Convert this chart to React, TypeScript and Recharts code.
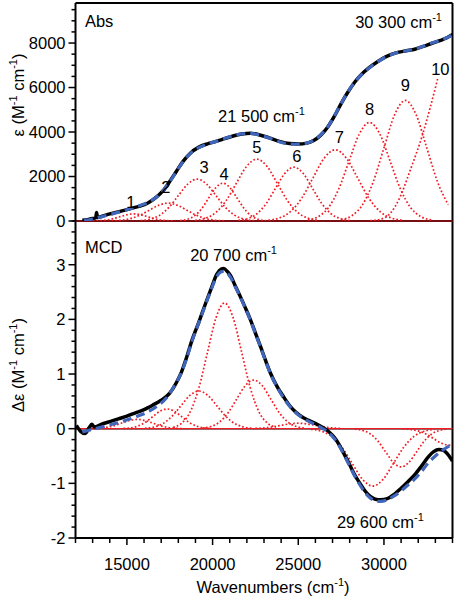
import React from 'react';
import { ComposedChart, Line, XAxis, YAxis, ReferenceLine, ReferenceDot } from 'recharts';

const FONT = '"Liberation Sans", Arial, Helvetica, sans-serif';
const RED = '#f01c24';
const BLUE = '#3f66bb';

// ---------- axes ----------
const xTicks = [12000, 13000, 14000, 15000, 16000, 17000, 18000, 19000, 20000, 21000, 22000, 23000, 24000, 25000, 26000, 27000, 28000, 29000, 30000, 31000, 32000, 33000, 34000];
const xLabelTicks = [15000, 20000, 25000, 30000];
const absTicks = [0, 500, 1000, 1500, 2000, 2500, 3000, 3500, 4000, 4500, 5000, 5500, 6000, 6500, 7000, 7500, 8000, 8500, 9000, 9500];
const absLabelTicks = [0, 2000, 4000, 6000, 8000];
const mcdTicks = [-2, -1.8, -1.6, -1.4, -1.2, -1, -0.8, -0.6, -0.4, -0.2, 0, 0.2, 0.4, 0.6, 0.8, 1, 1.2, 1.4, 1.6, 1.8, 2, 2.2, 2.4, 2.6, 2.8, 3, 3.2, 3.4, 3.6, 3.8];
const mcdLabelTicks = [-2, -1, 0, 1, 2, 3];

// ---------- absorption ----------
const absExp = [[12400,30],[12700,60],[13000,110],[13180,150],[13230,380],[13280,160],[13600,230],[14000,320],[14500,410],[14900,490],[15300,580],[15700,660],[16200,800],[16700,1060],[17100,1350],[17500,1780],[17900,2250],[18300,2700],[18700,3050],[19200,3320],[19700,3470],[20200,3580],[20700,3700],[21200,3820],[21700,3910],[22200,3950],[22700,3880],[23300,3740],[23900,3580],[24500,3480],[25000,3460],[25500,3500],[25900,3620],[26300,3850],[26700,4200],[27100,4700],[27500,5280],[27900,5800],[28300,6250],[28700,6600],[29100,6870],[29600,7150],[30100,7380],[30700,7560],[31300,7650],[31800,7720],[32300,7850],[32800,7990],[33300,8120],[33700,8250],[34000,8380]];
const absFit = [[12500,20],[13000,90],[13600,210],[14200,330],[14800,460],[15400,600],[16000,760],[16500,950],[17000,1270],[17500,1760],[17900,2240],[18300,2690],[18700,3030],[19200,3300],[19700,3460],[20200,3580],[20700,3710],[21200,3830],[21700,3920],[22200,3940],[22700,3870],[23300,3730],[23900,3560],[24500,3460],[25000,3450],[25500,3500],[25900,3630],[26300,3860],[26700,4210],[27100,4710],[27500,5280],[27900,5810],[28300,6250],[28700,6590],[29100,6860],[29600,7140],[30100,7370],[30700,7550],[31300,7650],[31800,7730],[32300,7860],[32800,8000],[33300,8130],[33700,8250],[34000,8370]];
const absBand1 = [[13000,4],[13400,14],[13800,43],[14200,104],[14600,194],[15000,282],[15400,320],[15800,282],[16200,194],[16600,104],[17000,43],[17400,14],[17800,4]];
const absBand2 = [[14100,9],[14650,35],[15200,108],[15750,260],[16300,485],[16850,706],[17400,800],[17950,706],[18500,485],[19050,260],[19600,108],[20150,35],[20700,9]];
const absBand3 = [[15800,21],[16350,83],[16900,254],[17450,610],[18000,1140],[18550,1659],[19100,1880],[19650,1659],[20200,1140],[20750,610],[21300,254],[21850,83],[22400,21]];
const absBand4 = [[18100,19],[18520,75],[18940,230],[19360,552],[19770,1031],[20190,1500],[20600,1700],[21010,1500],[21430,1031],[21850,552],[22260,230],[22680,75],[23100,19]];
const absBand5 = [[18980,31],[19580,122],[20180,376],[20780,903],[21380,1686],[21980,2453],[22580,2780],[23180,2453],[23780,1686],[24380,903],[24980,376],[25580,122],[26180,31]];
const absBand6 = [[21510,27],[22050,106],[22590,327],[23130,786],[23670,1468],[24210,2136],[24750,2420],[25290,2136],[25830,1468],[26370,786],[26910,327],[27450,106],[27990,27]];
const absBand7 = [[23260,36],[23910,140],[24560,433],[25210,1039],[25860,1941],[26510,2824],[27160,3200],[27810,2824],[28460,1941],[29110,1039],[29760,433],[30410,140],[31060,36]];
const absBand8 = [[25560,49],[26160,194],[26760,599],[27360,1438],[27960,2687],[28560,3909],[29160,4430],[29760,3909],[30360,2687],[30960,1438],[31560,599],[32160,194],[32760,49]];
const absBand9 = [[27500,60],[28125,238],[28750,733],[29375,1760],[30000,3287],[30625,4783],[31250,5420],[31875,4783],[32500,3287],[33125,1760],[33750,733]];
const absBand10 = [[29200,15],[29800,80],[30370,345],[30950,1095],[31540,2300],[32220,3800],[32700,5100],[33130,6380]];
const absBands = [absBand1, absBand2, absBand3, absBand4, absBand5, absBand6, absBand7, absBand8, absBand9, absBand10];

// ---------- MCD ----------
const mcdExp = [[12050,0.06],[12300,-0.05],[12550,-0.09],[12800,0.02],[12950,0.08],[13100,0.03],[13500,0.08],[14000,0.13],[14500,0.18],[15000,0.23],[15500,0.29],[16000,0.35],[16500,0.43],[17000,0.52],[17500,0.65],[17900,0.85],[18200,1.05],[18500,1.32],[18800,1.62],[19200,1.95],[19600,2.3],[19900,2.55],[20250,2.83],[20500,2.92],[20650,2.93],[20850,2.88],[21050,2.8],[21300,2.63],[21600,2.43],[21900,2.22],[22200,2.0],[22500,1.75],[22800,1.5],[23100,1.24],[23400,1.0],[23800,0.75],[24150,0.58],[24500,0.42],[24900,0.29],[25300,0.2],[25700,0.14],[26100,0.08],[26500,0.01],[26800,-0.06],[27100,-0.16],[27400,-0.3],[27700,-0.48],[28000,-0.66],[28300,-0.85],[28600,-1.0],[28900,-1.14],[29200,-1.24],[29500,-1.29],[29800,-1.3],[30200,-1.28],[30600,-1.2],[31000,-1.09],[31400,-0.97],[31800,-0.84],[32200,-0.68],[32600,-0.51],[32900,-0.42],[33200,-0.38],[33500,-0.4],[33800,-0.5],[34000,-0.59]];
const mcdFit = [[12400,-0.06],[12900,-0.02],[13400,0.02],[14000,0.07],[14600,0.12],[15200,0.18],[15800,0.25],[16300,0.32],[16800,0.42],[17300,0.56],[17800,0.8],[18200,1.04],[18500,1.3],[18800,1.6],[19200,1.94],[19600,2.28],[19900,2.53],[20250,2.79],[20500,2.87],[20650,2.88],[20850,2.85],[21050,2.77],[21300,2.61],[21600,2.42],[21900,2.21],[22200,1.99],[22500,1.74],[22800,1.49],[23100,1.23],[23400,0.99],[23800,0.74],[24150,0.56],[24500,0.41],[24900,0.28],[25300,0.19],[25700,0.12],[26100,0.06],[26500,-0.01],[26800,-0.08],[27100,-0.18],[27400,-0.32],[27700,-0.5],[28000,-0.68],[28300,-0.87],[28600,-1.03],[28900,-1.17],[29200,-1.27],[29500,-1.32],[29800,-1.33],[30200,-1.3],[30600,-1.23],[31000,-1.14],[31400,-1.03],[31800,-0.92],[32200,-0.78],[32600,-0.62],[33000,-0.5],[33400,-0.4],[33800,-0.32],[34000,-0.29]];
const mcdBandE = [[12900,0.002],[13350,0.007],[13800,0.023],[14250,0.055],[14700,0.103],[15150,0.15],[15600,0.17],[16050,0.15],[16500,0.103],[16950,0.055],[17400,0.023],[17850,0.007],[18300,0.002]];
const mcdBandD = [[14800,0.004],[15225,0.016],[15650,0.049],[16075,0.117],[16500,0.218],[16925,0.318],[17350,0.36],[17775,0.318],[18200,0.218],[18625,0.117],[19050,0.049],[19475,0.016],[19900,0.004]];
const mcdBandB = [[16050,0.008],[16575,0.03],[17100,0.093],[17625,0.224],[18150,0.418],[18675,0.609],[19200,0.69],[19725,0.609],[20250,0.418],[20775,0.224],[21300,0.093],[21825,0.03],[22350,0.008]];
const mcdBandA = [[17700,0.026],[18200,0.101],[18700,0.311],[19200,0.747],[19700,1.395],[20200,2.03],[20700,2.3],[21200,2.03],[21700,1.395],[22200,0.747],[22700,0.311],[23200,0.101],[23700,0.026]];
const mcdBandC = [[19400,0.01],[19900,0.039],[20400,0.12],[20900,0.289],[21400,0.54],[21900,0.785],[22400,0.89],[22900,0.785],[23400,0.54],[23900,0.289],[24400,0.12],[24900,0.039],[25400,0.01]];
const mcdBandG = [[22500,0.004],[23000,0.014],[23500,0.032],[24000,0.061],[24500,0.088],[25000,0.1],[25500,0.088],[26000,0.061],[26500,0.032],[27000,0.014],[27500,0.004]];
const mcdBandN1 = [[25750,-0.012],[26350,-0.046],[26950,-0.142],[27550,-0.341],[28150,-0.637],[28750,-0.927],[29350,-1.05],[29950,-0.927],[30550,-0.637],[31150,-0.341],[31750,-0.142],[32350,-0.046],[32950,-0.012]];
const mcdBandN2 = [[28300,-0.008],[28750,-0.031],[29200,-0.095],[29650,-0.227],[30100,-0.425],[30550,-0.618],[31000,-0.7],[31450,-0.618],[31900,-0.425],[32350,-0.227],[32800,-0.095],[33250,-0.031],[33700,-0.008]];
const mcdBandN3 = [[31100,-0.003],[31550,-0.013],[32000,-0.041],[32450,-0.097],[32900,-0.182],[33350,-0.265],[33800,-0.3],[34000,-0.29]];
const mcdBands = [mcdBandE, mcdBandD, mcdBandB, mcdBandA, mcdBandC, mcdBandG, mcdBandN1, mcdBandN2, mcdBandN3];

// ---------- annotations (data coordinates) ----------
const absNotes = [
  { x: 12550, y: 8700, text: 'Abs', sup: '', anchor: 'start' },
  { x: 28320, y: 8680, text: '30 300 cm', sup: '-1', anchor: 'start' },
  { x: 20320, y: 4470, text: '21 500 cm', sup: '-1', anchor: 'start' },
];
const bandNames = ['1', '2', '3', '4', '5', '6', '7', '8', '9', '10'];
const bandNameX = [15230, 17275, 19505, 20675, 22584, 24920, 27400, 29155, 31246, 33290];
const bandNameY = [585, 1250, 2150, 1850, 3050, 2670, 3500, 4775, 5825, 6577];
const mcdNotes = [
  { x: 12550, y: 3.22, text: 'MCD', sup: '', anchor: 'start' },
  { x: 18690, y: 3.07, text: '20 700 cm', sup: '-1', anchor: 'start' },
  { x: 27256, y: -1.81, text: '29 600 cm', sup: '-1', anchor: 'start' },
];

const pts = (a: number[][]) => a.map(([x, y]) => ({ x, y }));

const FS = 16.5;

const YTick = (props: any) => {
  const { x, y, payload, labels } = props;
  const v = payload.value;
  const major = labels.some((l: number) => Math.abs(l - v) < 1e-9);
  return (
    <g>
      <line x1={x} x2={x - (major ? 7 : 4)} y1={y} y2={y} stroke="#000" strokeWidth={1.5} />
      {major && (
        <text x={x - 10} y={y} dy="0.36em" textAnchor="end" fontFamily={FONT} fontSize={FS} fill="#000">
          {String(v)}
        </text>
      )}
    </g>
  );
};

const XTick = (props: any) => {
  const { x, y, payload } = props;
  const v = payload.value;
  const major = xLabelTicks.includes(v);
  return (
    <g>
      <line x1={x} x2={x} y1={y} y2={y + (major ? 7 : 5)} stroke="#000" strokeWidth={1.5} />
      {major && (
        <text x={x} y={y + 32} textAnchor="middle" fontFamily={FONT} fontSize={FS} fill="#000">
          {String(v)}
        </text>
      )}
    </g>
  );
};

const Note = (props: any) => {
  const { viewBox, text, sup, anchor } = props;
  const cx = viewBox.x + (viewBox.width || 0) / 2;
  const cy = viewBox.y + (viewBox.height || 0) / 2;
  return (
    <text x={cx} y={cy} textAnchor={anchor} fontFamily={FONT} fontSize={FS} fill="#000">
      {text}
      {sup ? <tspan dy={-7} fontSize={11}>{sup}</tspan> : null}
    </text>
  );
};

const bandLine = (d: number[][], i: number) => (
  <Line key={'b' + i} data={pts(d)} dataKey="y" type="monotone" dot={false} activeDot={false}
    isAnimationActive={false} stroke={RED} strokeWidth={1.7} strokeDasharray="1.7 2.1" />
);

export default function App() {
  return (
    <div style={{ position: 'absolute', left: 0, top: 0, width: 463, height: 601, background: '#fff' }}>
      {/* bottom MCD panel */}
      <div style={{ position: 'absolute', left: 0, top: 0 }}>
        <ComposedChart width={463} height={601} margin={{ top: 221, right: 10.5, bottom: 0, left: 0 }}>
          <XAxis dataKey="x" type="number" domain={[12000, 34000]} ticks={xTicks} interval={0} height={63}
            tickSize={0} tickMargin={0} tickLine={false} allowDataOverflow
            axisLine={{ stroke: '#000', strokeWidth: 2 }} tick={(p: any) => <XTick {...p} />} />
          <YAxis type="number" domain={[-2, 3.8]} ticks={mcdTicks} interval={0} width={75.5}
            tickSize={0} tickMargin={0} tickLine={false} allowDataOverflow
            axisLine={{ stroke: '#000', strokeWidth: 2 }} tick={(p: any) => <YTick {...p} labels={mcdLabelTicks} />} />
          <ReferenceLine x={34000} stroke="#000" strokeWidth={2} />
          <ReferenceLine y={0} stroke="#000" strokeWidth={1.5} />
          <ReferenceLine y={0} stroke={RED} strokeWidth={1.2} />
          {mcdBands.map(bandLine)}
          <Line data={pts(mcdExp)} dataKey="y" type="monotone" dot={false} activeDot={false}
            isAnimationActive={false} stroke="#000" strokeWidth={3.5} />
          <Line data={pts(mcdFit)} dataKey="y" type="monotone" dot={false} activeDot={false}
            isAnimationActive={false} stroke={BLUE} strokeWidth={3.2} strokeDasharray="9 5" />
          {mcdNotes.map((n, i) => (
            <ReferenceDot key={'mn' + i} x={n.x} y={n.y} r={0.5} fill="none" stroke="none"
              label={<Note text={n.text} sup={n.sup} anchor={n.anchor} />} />
          ))}
        </ComposedChart>
      </div>
      {/* top Abs panel */}
      <div style={{ position: 'absolute', left: 0, top: 0 }}>
        <ComposedChart width={463} height={240} margin={{ top: 3, right: 10.5, bottom: 19, left: 0 }}>
          <XAxis dataKey="x" type="number" domain={[12000, 34000]} hide allowDataOverflow />
          <YAxis type="number" domain={[0, 9800]} ticks={absTicks} interval={0} width={75.5}
            tickSize={0} tickMargin={0} tickLine={false} allowDataOverflow
            axisLine={{ stroke: '#000', strokeWidth: 2 }} tick={(p: any) => <YTick {...p} labels={absLabelTicks} />} />
          <ReferenceLine x={34000} stroke="#000" strokeWidth={2} />
          <ReferenceLine y={9800} stroke="#000" strokeWidth={2} />
          <ReferenceLine y={0} stroke="#000" strokeWidth={2} />
          <ReferenceLine y={0} stroke={RED} strokeWidth={1.2} />
          {absBands.map(bandLine)}
          <Line data={pts(absExp)} dataKey="y" type="monotone" dot={false} activeDot={false}
            isAnimationActive={false} stroke="#000" strokeWidth={3.5} />
          <Line data={pts(absFit)} dataKey="y" type="monotone" dot={false} activeDot={false}
            isAnimationActive={false} stroke={BLUE} strokeWidth={3.2} strokeDasharray="9 5" />
          {absNotes.map((n, i) => (
            <ReferenceDot key={'an' + i} x={n.x} y={n.y} r={0.5} fill="none" stroke="none"
              label={<Note text={n.text} sup={n.sup} anchor={n.anchor} />} />
          ))}
          {bandNames.map((t, i) => (
            <ReferenceDot key={'bn' + i} x={bandNameX[i]} y={bandNameY[i]} r={0.5} fill="none" stroke="none"
              label={<Note text={t} sup="" anchor="middle" />} />
          ))}
        </ComposedChart>
      </div>
      {/* axis titles */}
      <svg width={463} height={601} style={{ position: 'absolute', left: 0, top: 0, pointerEvents: 'none' }}>
        <text transform="translate(24,95) rotate(-90)" textAnchor="middle" fontFamily={FONT} fontSize={FS} fill="#000">
          ε (M<tspan dy={-7} fontSize={11}>-1</tspan><tspan dy={7}> cm</tspan><tspan dy={-7} fontSize={11}>-1</tspan><tspan dy={7}>)</tspan>
        </text>
        <text transform="translate(24,365) rotate(-90)" textAnchor="middle" fontFamily={FONT} fontSize={FS} fill="#000">
          Δε (M<tspan dy={-7} fontSize={11}>-1</tspan><tspan dy={7}> cm</tspan><tspan dy={-7} fontSize={11}>-1</tspan><tspan dy={7}>)</tspan>
        </text>
        <text x={273} y={593} textAnchor="middle" fontFamily={FONT} fontSize={FS} fill="#000">
          Wavenumbers (cm<tspan dy={-7} fontSize={11}>-1</tspan><tspan dy={7}>)</tspan>
        </text>
      </svg>
    </div>
  );
}
